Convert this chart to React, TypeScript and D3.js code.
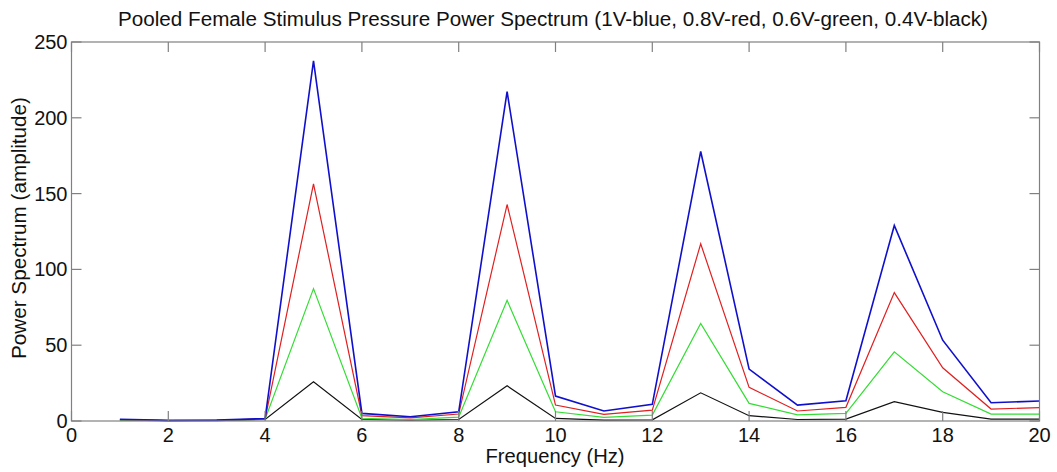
import React from "react";
import * as d3 from "d3";

const freqs = [1, 2, 3, 4, 5, 6, 7, 8, 9, 10, 11, 12, 13, 14, 15, 16, 17, 18, 19, 20];
const blue1V = [1.2, 0.4, 0.6, 1.6, 237.5, 5.0, 2.8, 6.1, 217.3, 16.4, 6.6, 11.0, 177.8, 34.2, 10.5, 13.4, 129.0, 53.3, 12.0, 13.2];
const red08V = [1.0, 0.3, 0.5, 1.4, 156.4, 3.5, 2.0, 4.6, 142.8, 10.5, 4.4, 7.2, 116.9, 22.2, 6.6, 9.0, 84.7, 35.1, 7.9, 8.8];
const green06V = [0.7, 0.2, 0.4, 1.2, 87.3, 1.8, 1.0, 2.5, 79.6, 6.1, 2.4, 3.9, 64.3, 11.6, 4.0, 5.0, 45.6, 19.3, 4.6, 4.6];
const black04V = [0.5, 0.2, 0.3, 1.0, 25.9, 1.0, 0.5, 1.0, 23.2, 1.7, 0.6, 0.8, 18.6, 3.5, 1.0, 1.3, 12.7, 5.7, 1.3, 1.3];
const xTicks = [0, 2, 4, 6, 8, 10, 12, 14, 16, 18, 20];
const yTicks = [0, 50, 100, 150, 200, 250];

const series = [
  { name: "0.4V", values: black04V, color: "#111111", width: 1.2 },
  { name: "0.6V", values: green06V, color: "#33dd33", width: 1.2 },
  { name: "0.8V", values: red08V, color: "#e02020", width: 1.2 },
  { name: "1V", values: blue1V, color: "#1010cc", width: 1.6 },
];

const W = 1057;
const H = 472;
const left = 71.5;
const right = 1039.5;
const top = 42;
const bottom = 421;

export default function App() {
  const x = d3.scaleLinear().domain([0, 20]).range([left, right]);
  const y = d3.scaleLinear().domain([0, 250]).range([bottom, top]);
  const line = d3
    .line<number>()
    .x((_, i) => x(freqs[i]))
    .y((d) => y(d));
  const font = "Arial, 'Liberation Sans', sans-serif";
  const axisColor = "#808080";
  const tickLen = 10;
  return (
    <svg
      width={W}
      height={H}
      style={{ position: "absolute", left: 0, top: 0, background: "#fff" }}
      fontFamily={font}
    >
      <rect x={0} y={0} width={W} height={H} fill="#fff" />
      <text
        x={553}
        y={26}
        textAnchor="middle"
        fontSize={20}
        fill="#111"
        textLength={870}
        lengthAdjust="spacingAndGlyphs"
      >
        Pooled Female Stimulus Pressure Power Spectrum (1V-blue, 0.8V-red, 0.6V-green, 0.4V-black)
      </text>
      {series.map((s) => (
        <path key={s.name} d={line(s.values) || ""} fill="none" stroke={s.color} strokeWidth={s.width} strokeLinejoin="miter" />
      ))}
      <rect x={left} y={top} width={right - left} height={bottom - top} fill="none" stroke={axisColor} strokeWidth={1.2} />
      {xTicks.map((t) => (
        <g key={"x" + t}>
          <line x1={x(t)} x2={x(t)} y1={bottom} y2={bottom - tickLen} stroke={axisColor} strokeWidth={1.2} />
          <line x1={x(t)} x2={x(t)} y1={top} y2={top + tickLen} stroke={axisColor} strokeWidth={1.2} />
          <text x={x(t)} y={bottom + 21} textAnchor="middle" fontSize={20} fill="#111">
            {t}
          </text>
        </g>
      ))}
      {yTicks.map((t) => (
        <g key={"y" + t}>
          <line x1={left} x2={left + tickLen} y1={y(t)} y2={y(t)} stroke={axisColor} strokeWidth={1.2} />
          <line x1={right} x2={right - tickLen} y1={y(t)} y2={y(t)} stroke={axisColor} strokeWidth={1.2} />
          <text x={left - 4} y={y(t) + 7} textAnchor="end" fontSize={20} fill="#111">
            {t}
          </text>
        </g>
      ))}
      <text
        x={555}
        y={463}
        textAnchor="middle"
        fontSize={20}
        fill="#111"
        textLength={139}
        lengthAdjust="spacingAndGlyphs"
      >
        Frequency (Hz)
      </text>
      <text
        transform={`translate(26, 228) rotate(-90)`}
        textAnchor="middle"
        fontSize={20.5}
        fill="#111"
        textLength={262}
        lengthAdjust="spacingAndGlyphs"
      >
        Power Spectrum (amplitude)
      </text>
    </svg>
  );
}
